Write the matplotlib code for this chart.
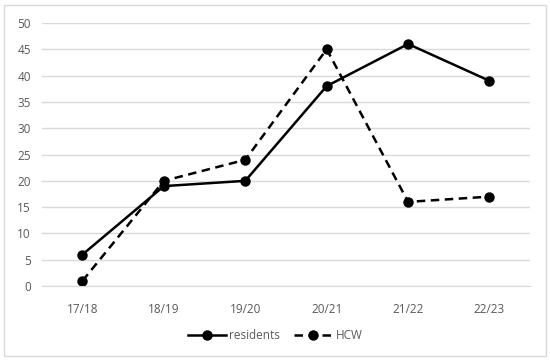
import matplotlib
matplotlib.use("Agg")
import matplotlib.pyplot as plt
from matplotlib.patches import Rectangle

seasons = ["17/18", "18/19", "19/20", "20/21", "21/22", "22/23"]
residents = [6, 19, 20, 38, 46, 39]
hcw = [1, 20, 24, 45, 16, 17]

plt.rcParams['font.family'] = ['Open Sans', 'DejaVu Sans']

fig = plt.figure(figsize=(5.5, 3.64), dpi=100)
ax = fig.add_axes([0.076, 0.214, 0.888, 0.723])

x = range(len(seasons))
ax.plot(x, residents, color="black", lw=1.8, marker="o", ms=6.5, label="residents")
ax.plot(x, hcw, color="black", lw=1.8, marker="o", ms=6.5, linestyle=(0, (3.4, 2.2)),
        label="HCW")

ax.set_xlim(-0.5, 5.5)
ax.set_ylim(0, 50)
ax.set_yticks(range(0, 51, 5))
ax.set_xticks(list(x))
ax.set_xticklabels(seasons)
ax.grid(axis="y", color="#d9d9d9", lw=1)
ax.set_axisbelow(True)
for s in ax.spines.values():
    s.set_visible(False)
ax.spines["bottom"].set_visible(True)
ax.spines["bottom"].set_color("#d9d9d9")
ax.tick_params(axis="y", length=0, labelsize=8.5, colors="#595959", pad=8)
ax.tick_params(axis="x", length=0, labelsize=8.5, colors="#595959", pad=12)

leg = fig.legend(loc="center", bbox_to_anchor=(0.5, 0.077), ncol=2, frameon=False,
                 fontsize=8.5, handlelength=3.2, columnspacing=1.2, handletextpad=0.3)
for t in leg.get_texts():
    t.set_color("#595959")

fig.patches.append(Rectangle((0.008, 0.022), 0.984, 0.963, transform=fig.transFigure,
                             fill=False, edgecolor="#d9d9d9", lw=1))

fig.savefig("out.png", dpi=100)
